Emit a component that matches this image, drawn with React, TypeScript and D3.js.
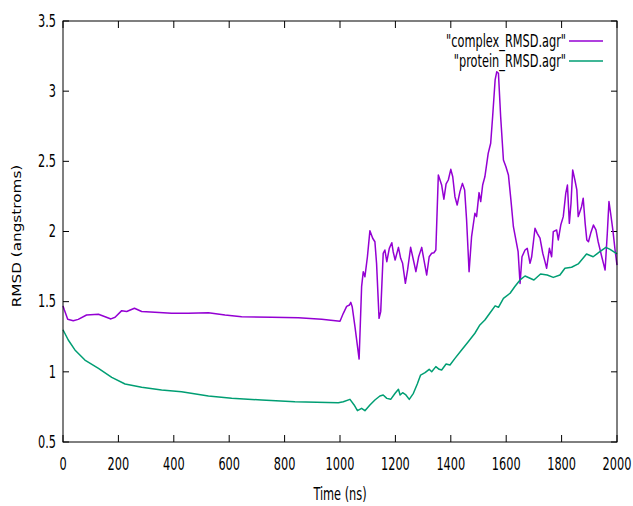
import React from "react";
import * as d3 from "d3";

const complexTime = [0, 5, 17, 37, 55, 85, 128, 152, 173, 188, 212, 230, 258, 284, 332, 392, 452, 525, 585, 645, 753, 850, 934, 1000, 1012, 1024, 1034, 1039, 1044, 1054, 1069, 1078, 1084, 1090, 1099, 1108, 1118, 1126, 1132, 1141, 1147, 1156, 1162, 1169, 1178, 1187, 1192, 1199, 1211, 1219, 1226, 1236, 1244, 1255, 1265, 1274, 1284, 1295, 1303, 1313, 1322, 1331, 1339, 1346, 1355, 1367, 1375, 1383, 1391, 1400, 1407, 1415, 1423, 1433, 1442, 1450, 1457, 1466, 1475, 1487, 1493, 1502, 1508, 1515, 1523, 1535, 1544, 1551, 1560, 1566, 1572, 1580, 1590, 1599, 1608, 1617, 1626, 1635, 1643, 1650, 1657, 1668, 1676, 1686, 1692, 1704, 1712, 1722, 1732, 1740, 1746, 1756, 1764, 1770, 1782, 1788, 1797, 1806, 1815, 1821, 1828, 1834, 1840, 1848, 1855, 1860, 1866, 1872, 1878, 1885, 1891, 1897, 1905, 1915, 1924, 1932, 1945, 1951, 1957, 1965, 1971, 1977, 1985, 1993, 2000];
const complexRmsd = [1.47, 1.44, 1.374, 1.364, 1.374, 1.405, 1.41, 1.393, 1.377, 1.389, 1.436, 1.43, 1.453, 1.43, 1.424, 1.417, 1.417, 1.421, 1.405, 1.393, 1.389, 1.386, 1.374, 1.36, 1.417, 1.466, 1.476, 1.495, 1.464, 1.322, 1.091, 1.607, 1.714, 1.678, 1.82, 2.006, 1.952, 1.927, 1.773, 1.381, 1.429, 1.845, 1.868, 1.785, 1.88, 1.92, 1.856, 1.797, 1.887, 1.809, 1.773, 1.631, 1.726, 1.887, 1.797, 1.714, 1.82, 1.887, 1.797, 1.69, 1.82, 1.845, 1.849, 1.868, 2.403, 2.331, 2.23, 2.339, 2.367, 2.443, 2.39, 2.248, 2.189, 2.284, 2.343, 2.296, 2.082, 1.714, 1.963, 2.13, 2.106, 2.277, 2.213, 2.331, 2.39, 2.557, 2.629, 2.818, 3.08, 3.139, 3.127, 2.818, 2.51, 2.462, 2.403, 2.225, 2.034, 1.94, 1.856, 1.63, 1.82, 1.868, 1.88, 1.773, 1.82, 2.023, 1.987, 1.952, 1.845, 1.785, 1.738, 1.88, 1.82, 1.999, 2.011, 1.94, 2.046, 2.106, 2.272, 2.331, 2.058, 2.201, 2.438, 2.367, 2.296, 2.106, 2.141, 2.177, 2.237, 2.058, 1.94, 1.927, 1.987, 2.046, 2.011, 1.927, 1.82, 1.773, 1.726, 1.987, 2.213, 2.13, 2.011, 1.868, 1.761];

const proteinTime = [0, 19, 43, 79, 128, 176, 224, 284, 356, 428, 525, 609, 717, 837, 994, 1012, 1036, 1051, 1063, 1078, 1090, 1108, 1126, 1144, 1156, 1169, 1183, 1199, 1211, 1217, 1226, 1238, 1250, 1265, 1279, 1291, 1307, 1322, 1331, 1346, 1358, 1367, 1383, 1397, 1415, 1439, 1463, 1487, 1505, 1523, 1542, 1560, 1572, 1590, 1614, 1632, 1650, 1668, 1700, 1724, 1748, 1770, 1794, 1812, 1836, 1860, 1872, 1890, 1914, 1938, 1960, 1975, 2000];
const proteinRmsd = [1.3, 1.227, 1.156, 1.084, 1.025, 0.961, 0.913, 0.89, 0.871, 0.858, 0.828, 0.811, 0.799, 0.787, 0.78, 0.787, 0.804, 0.764, 0.723, 0.74, 0.723, 0.764, 0.799, 0.828, 0.835, 0.811, 0.804, 0.847, 0.876, 0.835, 0.851, 0.835, 0.804, 0.847, 0.913, 0.977, 0.994, 1.018, 1.001, 1.037, 1.018, 1.013, 1.056, 1.049, 1.096, 1.156, 1.215, 1.275, 1.334, 1.369, 1.421, 1.47, 1.46, 1.524, 1.56, 1.61, 1.655, 1.683, 1.654, 1.697, 1.69, 1.673, 1.69, 1.738, 1.745, 1.769, 1.797, 1.84, 1.82, 1.856, 1.887, 1.873, 1.84];

const xTicks = [0, 200, 400, 600, 800, 1000, 1200, 1400, 1600, 1800, 2000];
const yTicks = [0.5, 1, 1.5, 2, 2.5, 3, 3.5];
const seriesNames = ['"complex_RMSD.agr"', '"protein_RMSD.agr"'];
const seriesColors = ["#9400d3", "#009e73"];

const W = 633;
const H = 506;
const left = 63;
const right = 617;
const top = 21;
const bottom = 442;

const tickFont = "'DejaVu Sans Condensed', 'DejaVu Sans', sans-serif";
const FS = 18;
const SX = 0.7;

export default function App() {
  const x = d3.scaleLinear().domain([0, 2000]).range([left, right]);
  const y = d3.scaleLinear().domain([0.5, 3.5]).range([bottom, top]);
  const line = d3
    .line<[number, number]>()
    .x((d) => x(d[0]))
    .y((d) => y(d[1]));
  const complex: [number, number][] = complexTime.map((t, i) => [t, complexRmsd[i]]);
  const protein: [number, number][] = proteinTime.map((t, i) => [t, proteinRmsd[i]]);
  const series = [complex, protein];

  return (
    <div style={{ position: "absolute", left: 0, top: 0 }}>
      <svg width={W} height={H} style={{ display: "block", background: "#fff" }}>
        <rect x={0} y={0} width={W} height={H} fill="#fff" />
        {xTicks.map((t) => (
          <g key={"xt" + t}>
            <line x1={x(t)} x2={x(t)} y1={bottom} y2={bottom - 7} stroke="#000" strokeWidth={1} />
            <line x1={x(t)} x2={x(t)} y1={top} y2={top + 7} stroke="#000" strokeWidth={1} />
            <text
              transform={`translate(${x(t)},${464}) scale(${SX},1)`}
              textAnchor="middle"
              dominantBaseline="central"
              fontFamily={tickFont}
              fontSize={FS}
              fill="#000"
            >
              {t}
            </text>
          </g>
        ))}
        {yTicks.map((v) => (
          <g key={"yt" + v}>
            <line x1={left} x2={left + 6} y1={y(v)} y2={y(v)} stroke="#000" strokeWidth={1} />
            <line x1={right} x2={right - 6} y1={y(v)} y2={y(v)} stroke="#000" strokeWidth={1} />
            <text
              transform={`translate(${56},${y(v)}) scale(${SX},1)`}
              textAnchor="end"
              dominantBaseline="central"
              fontFamily={tickFont}
              fontSize={FS}
              fill="#000"
            >
              {v}
            </text>
          </g>
        ))}
        {series.map((s, i) => (
          <path
            key={"s" + i}
            d={line(s) || ""}
            fill="none"
            stroke={seriesColors[i]}
            strokeWidth={1.5}
            strokeLinejoin="round"
          />
        ))}
        <rect
          x={left}
          y={top}
          width={right - left}
          height={bottom - top}
          fill="none"
          stroke="#000"
          strokeWidth={1}
        />
        {seriesNames.map((n, i) => (
          <g key={"lg" + i}>
            <text
              transform={`translate(${566},${41 + i * 20}) scale(${SX},1)`}
              textAnchor="end"
              dominantBaseline="central"
              fontFamily={tickFont}
              fontSize={FS}
              fill="#000"
            >
              {n}
            </text>
            <line
              x1={569}
              x2={603}
              y1={41 + i * 20}
              y2={41 + i * 20}
              stroke={seriesColors[i]}
              strokeWidth={1.5}
            />
          </g>
        ))}
        <text
          transform={`translate(${(left + right) / 2},${494}) scale(${SX},1)`}
          textAnchor="middle"
          dominantBaseline="central"
          fontFamily={tickFont}
          fontSize={FS}
          fill="#000"
        >
          Time (ns)
        </text>
        <text
          transform={`translate(${17},${236}) rotate(-90) scale(1.22,1)`}
          textAnchor="middle"
          dominantBaseline="central"
          fontFamily="'DejaVu Sans', sans-serif"
          fontSize={12.5}
          fill="#000"
        >
          RMSD (angstroms)
        </text>
      </svg>
    </div>
  );
}
